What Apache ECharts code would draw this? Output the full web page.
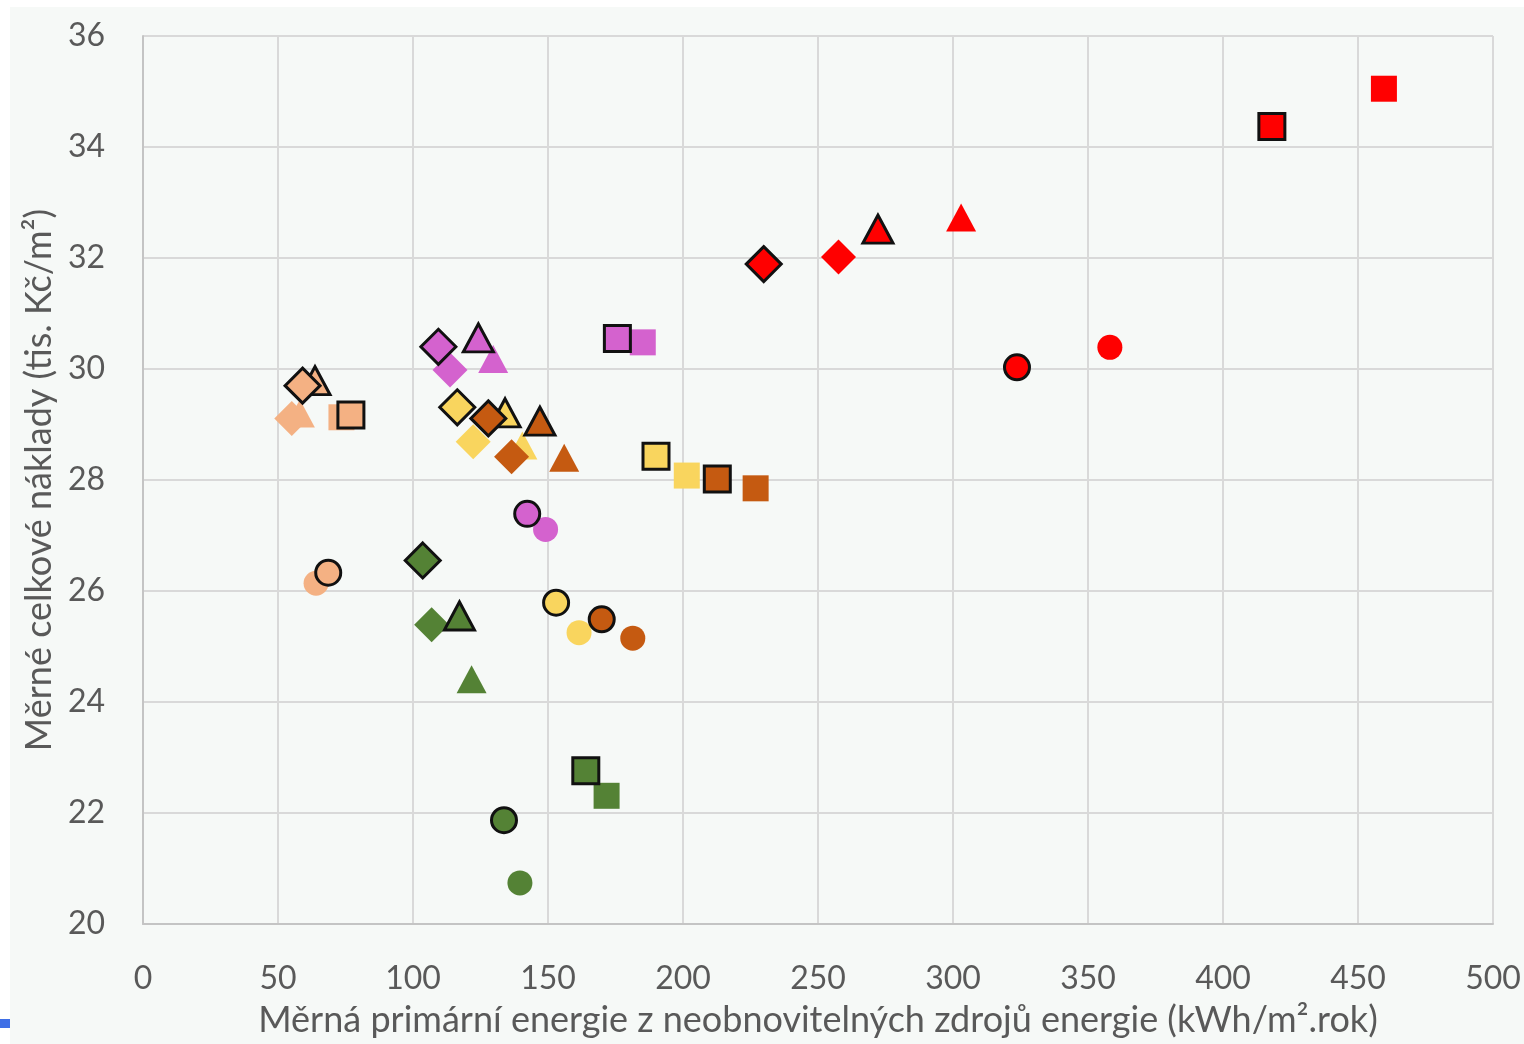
<!DOCTYPE html>
<html>
<head>
<meta charset="utf-8">
<script src="https://cdn.jsdelivr.net/npm/echarts@6/dist/echarts.min.js"></script>
<style>
  html, body { margin: 0; padding: 0; background: #ffffff; }
  #wrap { position: relative; width: 1524px; height: 1044px; background: #ffffff; }
  #panel { position: absolute; left: 10px; top: 7px; right: 0; bottom: 0; background: #F6F9F7; }
  #chart { position: absolute; left: 0; top: 0; width: 1524px; height: 1044px; }
</style>
</head>
<body>
<div id="wrap">
  <div id="panel"></div>
  <div id="chart"></div>
</div>
<script>
// Axis ticks
const xTicks = [0, 50, 100, 150, 200, 250, 300, 350, 400, 450, 500];
const yTicks = [20, 22, 24, 26, 28, 30, 32, 34, 36];

// Marker shapes, in the order every point list below is written
const shapeOrder = ['rect', 'triangle', 'diamond', 'circle'];

// [energie kWh/m2.rok, náklady tis. Kč/m2] for square, triangle, diamond, circle
const salmonPlain      = [[73.5, 29.13], [58.1, 29.20], [55.1, 29.11], [64.1, 26.14]];
const salmonOutlined   = [[77.0, 29.17], [63.7, 29.79], [59.1, 29.70], [68.6, 26.33]];
const magentaPlain     = [[185.1, 30.48], [129.7, 30.18], [113.7, 29.98], [149.1, 27.11]];
const magentaOutlined  = [[175.7, 30.55], [124.2, 30.56], [109.4, 30.40], [142.3, 27.39]];
const yellowPlain      = [[201.4, 28.08], [140.5, 28.62], [122.3, 28.69], [161.5, 25.25]];
const yellowOutlined   = [[190.0, 28.43], [134.1, 29.21], [116.4, 29.31], [153.0, 25.79]];
const orangePlain      = [[226.9, 27.85], [156.0, 28.40], [136.5, 28.42], [181.4, 25.15]];
const orangeOutlined   = [[212.7, 28.02], [147.0, 29.06], [127.9, 29.11], [169.9, 25.49]];
const greenPlain       = [[171.7, 22.31], [121.7, 24.41], [106.9, 25.39], [139.6, 20.74]];
const greenOutlined    = [[164.0, 22.76], [117.2, 25.55], [103.6, 26.55], [133.7, 21.87]];
const redPlain         = [[459.6, 35.05], [303.0, 32.73], [257.6, 32.02], [358.1, 30.39]];
const redOutlined      = [[418.1, 34.37], [272.2, 32.52], [229.9, 31.89], [323.7, 30.03]];

const palette = {
  salmon: '#F4B183',
  magenta: '#D462CE',
  yellow: '#F9D55E',
  orange: '#C55A11',
  green: '#548235',
  red: '#FF0000'
};

const symbolSizes = {
  rect: 26,
  triangle: [30, 28],
  diamond: 35,
  circle: 25
};

const TEXT = '#595959';
const FONT = 'Lato';

function makeSeries(name, points, color, outlined) {
  return {
    name: name,
    type: 'scatter',
    z: outlined ? 3 : 2,
    data: points.map(function (p, i) {
      const shape = shapeOrder[i];
      return {
        value: p,
        symbol: shape,
        symbolSize: symbolSizes[shape]
      };
    }),
    itemStyle: {
      color: color,
      opacity: 1,
      borderColor: outlined ? '#111111' : color,
      borderWidth: outlined ? 3 : 0
    },
    emphasis: { disabled: true },
    animation: false
  };
}

const series = [
  makeSeries('salmon', salmonPlain, palette.salmon, false),
  makeSeries('magenta', magentaPlain, palette.magenta, false),
  makeSeries('yellow', yellowPlain, palette.yellow, false),
  makeSeries('orange', orangePlain, palette.orange, false),
  makeSeries('green', greenPlain, palette.green, false),
  makeSeries('red', redPlain, palette.red, false),
  makeSeries('salmon-o', salmonOutlined, palette.salmon, true),
  makeSeries('magenta-o', magentaOutlined, palette.magenta, true),
  makeSeries('yellow-o', yellowOutlined, palette.yellow, true),
  makeSeries('orange-o', orangeOutlined, palette.orange, true),
  makeSeries('green-o', greenOutlined, palette.green, true),
  makeSeries('red-o', redOutlined, palette.red, true)
];

const chart = echarts.init(document.getElementById('chart'), null, { renderer: 'canvas' });

chart.setOption({
  backgroundColor: 'transparent',
  animation: false,
  textStyle: { fontFamily: FONT },
  grid: { left: 143, right: 31, top: 36, bottom: 120, containLabel: false },
  xAxis: {
    type: 'value',
    min: xTicks[0],
    max: xTicks[xTicks.length - 1],
    interval: xTicks[1] - xTicks[0],
    name: 'Měrná primární energie z neobnovitelných zdrojů energie (kWh/m².rok)',
    nameLocation: 'middle',
    nameGap: 78,
    nameTextStyle: { color: TEXT, fontSize: 36, fontFamily: FONT },
    axisLine: { show: true, lineStyle: { color: '#C4C4C4', width: 2 } },
    axisTick: { show: false },
    axisLabel: { color: TEXT, fontSize: 32, fontFamily: FONT, margin: 39 },
    splitLine: { show: true, lineStyle: { color: '#D9D9D9', width: 2 } }
  },
  yAxis: {
    type: 'value',
    min: yTicks[0],
    max: yTicks[yTicks.length - 1],
    interval: yTicks[1] - yTicks[0],
    name: 'Měrné celkové náklady (tis. Kč/m²)',
    nameLocation: 'middle',
    nameGap: 85,
    nameRotate: 90,
    nameTextStyle: { color: TEXT, fontSize: 36, fontFamily: FONT },
    axisLine: { show: true, lineStyle: { color: '#C4C4C4', width: 2 } },
    axisTick: { show: false },
    axisLabel: { color: TEXT, fontSize: 32, fontFamily: FONT, margin: 38 },
    splitLine: { show: true, lineStyle: { color: '#D9D9D9', width: 2 } }
  },
  graphic: [
    {
      type: 'rect',
      left: 0,
      top: 1019,
      shape: { width: 10, height: 9 },
      style: { fill: '#3F6FE6' },
      silent: true
    }
  ],
  series: series
});
</script>
</body>
</html>
